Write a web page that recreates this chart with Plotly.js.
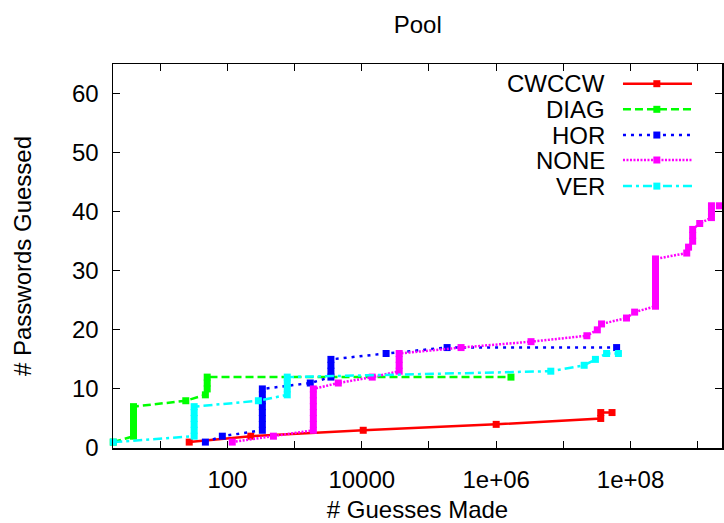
<!DOCTYPE html>
<html>
<head>
<meta charset="utf-8">
<script src="https://cdn.plot.ly/plotly-3.0.1.min.js"></script>
<style>
  html, body { margin: 0; padding: 0; background: #fff; }
  #chart { width: 724px; height: 523px; }
</style>
</head>
<body>
<div id="chart"></div>
<script>
// Cumulative passwords guessed vs. number of guesses, per pattern type.
const seriesNames = ['CWCCW', 'DIAG', 'HOR', 'NONE', 'VER'];

const cwccwX = [27, 223, 10500, 1.0e6, 3.6e7, 3.6e7, 5.3e7];
const cwccwY = [1, 2, 3, 4, 5, 6, 6];

const diagX = [2, 4, 4, 4, 4, 4, 4, 24, 47, 50, 50, 50, 1.66e6];
const diagY = [1, 2, 3, 4, 5, 6, 7, 8, 9, 10, 11, 12, 12];

const horX = [47, 84, 331, 331, 331, 331, 331, 331, 331, 331, 1710,
              3470, 3470, 3470, 3470, 23000, 186000, 6.2e7];
const horY = [1, 2, 3, 4, 5, 6, 7, 8, 9, 10, 11, 12, 13, 14, 15, 16, 17, 17];

const noneX = [118, 484, 1900, 1900, 1900, 1900, 1900, 1900, 1900, 1900,
               4470, 14300, 36000, 36000, 36000, 36000, 3.0e5, 3.3e6,
               2.24e7, 3.2e7, 3.7e7, 8.7e7, 1.15e8,
               2.35e8, 2.35e8, 2.35e8, 2.35e8, 2.35e8, 2.35e8, 2.35e8, 2.35e8, 2.35e8,
               6.86e8, 7.3e8, 8.4e8, 8.4e8, 8.4e8, 1.07e9,
               1.6e9, 1.6e9, 1.6e9, 2.1e9];
const noneY = [1, 2, 3, 4, 5, 6, 7, 8, 9, 10,
               11, 12, 13, 14, 15, 16, 17, 18,
               19, 20, 21, 22, 23,
               24, 25, 26, 27, 28, 29, 30, 31, 32,
               33, 34, 35, 36, 37, 38,
               39, 40, 41, 41];

const verX = [2, 32, 32, 32, 32, 32, 32, 289, 777, 777, 777, 777,
              6.5e6, 2.04e7, 3.0e7, 4.4e7, 6.6e7];
const verY = [1, 2, 3, 4, 5, 6, 7, 8, 9, 10, 11, 12, 13, 14, 15, 16, 16];

const xTickVals = [10, 100, 1000, 1e4, 1e5, 1e6, 1e7, 1e8, 1e9];
const xTickText = ['', '100', '', '10000', '', '1e+06', '', '1e+08', ''];
const yTickVals = [0, 10, 20, 30, 40, 50, 60];

// styling per series
const colors = ['#ff0000', '#00ff00', '#0000ff', '#ff00ff', '#00ffff'];
const dashes = ['solid', '8px,4px', '3px,5px', '2px,1.5px', '9px,4px,3px,4px'];
const xs = [cwccwX, diagX, horX, noneX, verX];
const ys = [cwccwY, diagY, horY, noneY, verY];

const FONT = '"Liberation Sans", Arial, Helvetica, sans-serif';

const traces = seriesNames.map((name, i) => ({
  type: 'scatter',
  mode: 'lines+markers',
  name: name,
  x: xs[i],
  y: ys[i],
  cliponaxis: false,
  line: { color: colors[i], width: 2.5, dash: dashes[i] },
  marker: { symbol: 'square', size: 7, color: colors[i], line: { width: 0 } },
  showlegend: false
}));

// legend drawn as text on the left, sample line + marker on the right
const legTextX = 0.811;
const legLineX0 = 0.8374, legLineX1 = 0.9507, legMarkX = 0.893;
const legRowY = [0.9487, 0.882, 0.815, 0.75, 0.682];

const annotations = [];
const shapes = [];
seriesNames.forEach((name, i) => {
  annotations.push({
    xref: 'paper', yref: 'paper', x: legTextX, y: legRowY[i],
    xanchor: 'right', yanchor: 'middle', showarrow: false,
    text: name, font: { family: FONT, size: 24, color: '#000' }
  });
  shapes.push({
    type: 'line', xref: 'paper', yref: 'paper',
    x0: legLineX0, x1: legLineX1, y0: legRowY[i], y1: legRowY[i],
    line: { color: colors[i], width: 2.5, dash: dashes[i] }
  });
  shapes.push({
    type: 'rect', xref: 'paper', yref: 'paper',
    xsizemode: 'pixel', ysizemode: 'pixel',
    xanchor: legMarkX, yanchor: legRowY[i],
    x0: -3.5, x1: 3.5, y0: -3.5, y1: 3.5,
    fillcolor: colors[i], line: { width: 0 }
  });
});

const axisCommon = {
  showline: true, mirror: 'allticks', linecolor: '#000', linewidth: 1.5,
  ticks: 'inside', ticklen: 7, tickwidth: 1, tickcolor: '#000',
  showgrid: false, zeroline: false,
  tickfont: { family: FONT, size: 24, color: '#000' }
};

const layout = {
  width: 724, height: 523,
  margin: { l: 113, r: 2, t: 64, b: 75 },
  paper_bgcolor: '#fff', plot_bgcolor: '#fff',
  font: { family: FONT, size: 24, color: '#000' },
  title: { text: 'Pool', x: 0.577, xanchor: 'center', y: 0.953, yanchor: 'middle',
           font: { family: FONT, size: 24, color: '#000' } },
  xaxis: Object.assign({}, axisCommon, {
    type: 'log', range: [0.297, 9.361],
    tickmode: 'array', tickvals: xTickVals, ticktext: xTickText,
    ticklabelstandoff: 10,
    title: { text: '# Guesses Made', standoff: 13,
             font: { family: FONT, size: 24, color: '#000' } }
  }),
  yaxis: Object.assign({}, axisCommon, {
    range: [0, 65], tickmode: 'array', tickvals: yTickVals,
    ticklabelstandoff: 8,
    title: { text: '# Passwords Guessed', standoff: 33,
             font: { family: FONT, size: 24, color: '#000' } }
  }),
  annotations: annotations,
  shapes: shapes,
  showlegend: false
};

Plotly.newPlot('chart', traces, layout, { displayModeBar: false, staticPlot: true });
</script>
</body>
</html>
